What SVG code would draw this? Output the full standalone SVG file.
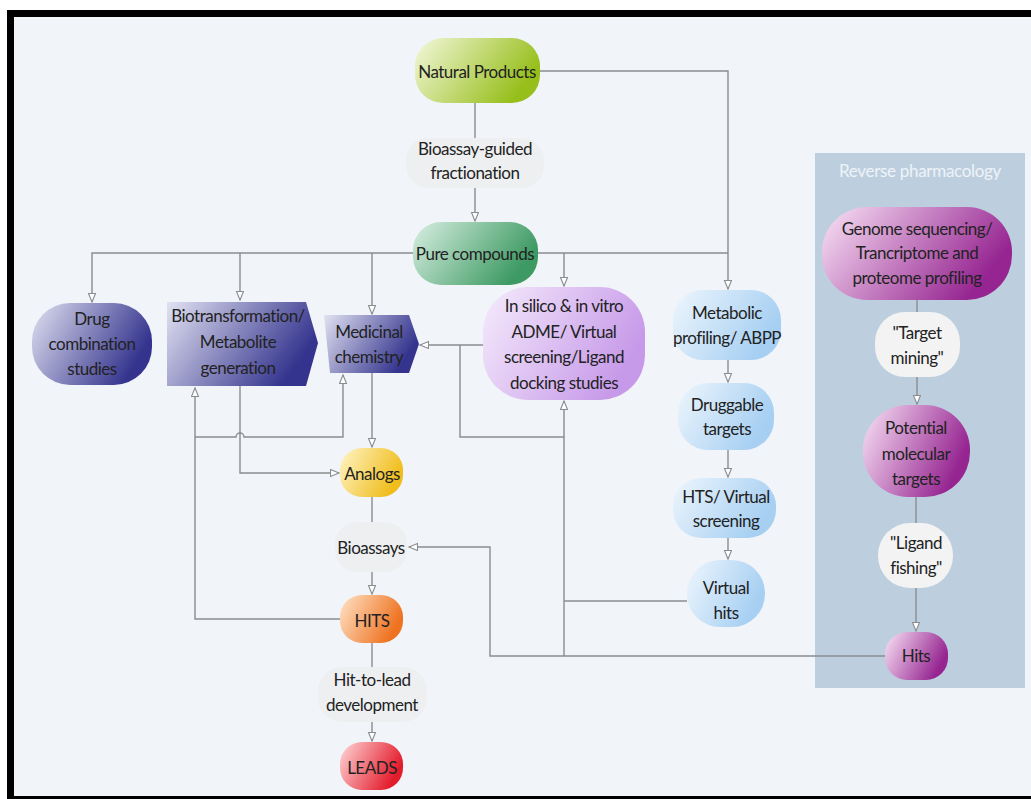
<svg xmlns="http://www.w3.org/2000/svg" width="1031" height="799" viewBox="0 0 1031 799">
<defs>
<style>
.t{font-family:Lato,"Open Sans","Liberation Sans",sans-serif;font-size:17px;letter-spacing:-0.5px;fill:#222;text-anchor:middle;dominant-baseline:central}
.c{fill:none;stroke:#8a8c90;stroke-width:1.4}
.a{marker-end:url(#ah)}
</style>
<marker id="ah" markerUnits="userSpaceOnUse" markerWidth="12" markerHeight="12" refX="9" refY="4" orient="auto">
<path d="M0.5,0.5 L9,4 L0.5,7.5 Z" fill="#ffffff" stroke="#8a8c90" stroke-width="1.1"/>
</marker>
<linearGradient id="gGreenL" x1="0" y1="0" x2="1" y2="0.4"><stop offset="0" stop-color="#f4f8dc"/><stop offset="1" stop-color="#97bf1c"/></linearGradient>
<linearGradient id="gGreenD" x1="0" y1="0" x2="1" y2="0.4"><stop offset="0" stop-color="#d9efe2"/><stop offset="1" stop-color="#3d9a63"/></linearGradient>
<linearGradient id="gBlueD" x1="0" y1="0" x2="1" y2="0.4"><stop offset="0" stop-color="#e2e2f2"/><stop offset="1" stop-color="#34348e"/></linearGradient>
<linearGradient id="gLilac" x1="0" y1="0" x2="1" y2="0.4"><stop offset="0" stop-color="#f6ecfc"/><stop offset="1" stop-color="#c79ae9"/></linearGradient>
<linearGradient id="gSky" x1="0" y1="0" x2="1" y2="0.4"><stop offset="0" stop-color="#eef6fd"/><stop offset="1" stop-color="#a6cff2"/></linearGradient>
<linearGradient id="gPurple" x1="0" y1="0" x2="1" y2="0.4"><stop offset="0" stop-color="#f9e4f6"/><stop offset="1" stop-color="#962591"/></linearGradient>
<linearGradient id="gYellow" x1="0" y1="0" x2="1" y2="0.4"><stop offset="0" stop-color="#fff5c8"/><stop offset="1" stop-color="#f0bd1c"/></linearGradient>
<linearGradient id="gOrange" x1="0" y1="0" x2="1" y2="0.4"><stop offset="0" stop-color="#ffe4c8"/><stop offset="1" stop-color="#ee7220"/></linearGradient>
<linearGradient id="gRed" x1="0" y1="0" x2="1" y2="0.4"><stop offset="0" stop-color="#ffd8d8"/><stop offset="1" stop-color="#e31c2c"/></linearGradient>
</defs>
<rect x="0" y="0" width="1031" height="799" fill="#ffffff"/>
<rect x="14" y="17" width="1017" height="779" fill="#f1f4f9"/>
<rect x="7" y="10" width="1024" height="7" fill="#000"/>
<rect x="7" y="10" width="7" height="789" fill="#000"/>
<rect x="7" y="796" width="1024" height="3" fill="#000"/>

<g id="panel-reverse">
<rect x="815" y="153" width="210" height="535" fill="#bdcfdf"/>
<text class="t" x="920" y="170" style="fill:#eef3f8;font-size:17px;letter-spacing:-0.3px">Reverse pharmacology</text>
</g>

<g id="connectors">
<path class="c" d="M475,103 V138"/>
<path class="c a" d="M475,188 V221"/>
<path class="c a" d="M540,71 H728 V289"/>
<path class="c" d="M537,253 H728"/>
<path class="c a" d="M413,253 H92 V302"/>
<path class="c a" d="M240,253 V300"/>
<path class="c a" d="M372,253 V314"/>
<path class="c a" d="M564,253 V286"/>
<path class="c a" d="M483,345 H420"/>
<path class="c a" d="M460,345 V437 H564 V401"/>
<path class="c" d="M564,437 V656"/>
<path class="c" d="M687,601 H564"/>
<path class="c a" d="M885,656 H490 V547 H409"/>
<path class="c a" d="M728,360 V382"/>
<path class="c a" d="M728,450 V477"/>
<path class="c a" d="M728,538 V559"/>
<path class="c a" d="M372,373 V447"/>
<path class="c a" d="M240,386 V473 H339"/>
<path class="c a" d="M340,619 H195 V388"/>
<path class="c a" d="M195,437 H236 A4,4 0 0 1 244,437 H343 V375"/>
<path class="c" d="M372,497 V522"/>
<path class="c a" d="M372,572 V594"/>
<path class="c" d="M372,643 V667"/>
<path class="c a" d="M372,722 V741"/>
<path class="c" d="M917,300 V312"/>
<path class="c a" d="M917,377 V404"/>
<path class="c" d="M916,497 V523"/>
<path class="c a" d="M916,588 V631"/>
</g>

<g id="n-natural-products">
<rect x="415" y="38" width="125" height="65" rx="28" fill="url(#gGreenL)"/>
<text class="t" x="477" y="71">Natural Products</text>
</g>
<g id="n-bioassay-guided">
<rect x="406" y="138" width="138" height="50" rx="22" fill="#eeeff1"/>
<text class="t" x="475" y="148">Bioassay-guided</text>
<text class="t" x="475" y="172">fractionation</text>
</g>
<g id="n-pure-compounds">
<rect x="413" y="222" width="125" height="63" rx="28" fill="url(#gGreenD)"/>
<text class="t" x="475" y="253">Pure compounds</text>
</g>
<g id="n-drug-combination">
<rect x="32" y="303" width="120" height="82" rx="38" fill="url(#gBlueD)"/>
<text class="t" x="92" y="318">Drug</text>
<text class="t" x="92" y="343">combination</text>
<text class="t" x="92" y="368">studies</text>
</g>
<g id="n-biotransformation">
<polygon points="167,302 306,302 318,343 306,386 167,386" fill="url(#gBlueD)"/>
<text class="t" x="238" y="315">Biotransformation/</text>
<text class="t" x="238" y="341">Metabolite</text>
<text class="t" x="238" y="367">generation</text>
</g>
<g id="n-medicinal-chemistry">
<polygon points="324,315 409,315 419,344 409,373 330,373 327,344" fill="url(#gBlueD)"/>
<text class="t" x="369" y="331">Medicinal</text>
<text class="t" x="369" y="356">chemistry</text>
</g>
<g id="n-in-silico">
<rect x="483" y="287" width="162" height="113" rx="45" fill="url(#gLilac)"/>
<text class="t" x="564" y="305">In silico &amp; in vitro</text>
<text class="t" x="564" y="331">ADME/ Virtual</text>
<text class="t" x="564" y="356">screening/Ligand</text>
<text class="t" x="564" y="382">docking studies</text>
</g>
<g id="n-metabolic-profiling">
<rect x="673" y="290" width="108" height="70" rx="30" fill="url(#gSky)"/>
<text class="t" x="727" y="312">Metabolic</text>
<text class="t" x="727" y="337">profiling/ ABPP</text>
</g>
<g id="n-druggable-targets">
<rect x="678" y="383" width="96" height="67" rx="30" fill="url(#gSky)"/>
<text class="t" x="727" y="404">Druggable</text>
<text class="t" x="727" y="428">targets</text>
</g>
<g id="n-hts">
<rect x="673" y="478" width="103" height="60" rx="28" fill="url(#gSky)"/>
<text class="t" x="726" y="496">HTS/ Virtual</text>
<text class="t" x="726" y="520">screening</text>
</g>
<g id="n-virtual-hits">
<rect x="687" y="560" width="78" height="67" rx="33" fill="url(#gSky)"/>
<text class="t" x="726" y="587">Virtual</text>
<text class="t" x="726" y="612">hits</text>
</g>
<g id="n-genome">
<rect x="822" y="207" width="190" height="93" rx="45" fill="url(#gPurple)"/>
<text class="t" x="917" y="228">Genome sequencing/</text>
<text class="t" x="917" y="252">Trancriptome and</text>
<text class="t" x="917" y="277">proteome profiling</text>
</g>
<g id="n-target-mining">
<rect x="875" y="312" width="85" height="65" rx="30" fill="#f3f3f4"/>
<text class="t" x="917" y="332">"Target</text>
<text class="t" x="917" y="357">mining"</text>
</g>
<g id="n-potential-targets">
<rect x="863" y="405" width="107" height="92" rx="45" fill="url(#gPurple)"/>
<text class="t" x="916" y="427">Potential</text>
<text class="t" x="916" y="453">molecular</text>
<text class="t" x="916" y="478">targets</text>
</g>
<g id="n-ligand-fishing">
<rect x="878" y="523" width="75" height="65" rx="32" fill="#f3f3f4"/>
<text class="t" x="916" y="542">"Ligand</text>
<text class="t" x="916" y="567">fishing"</text>
</g>
<g id="n-hits">
<rect x="885" y="632" width="63" height="48" rx="22" fill="url(#gPurple)"/>
<text class="t" x="916" y="655">Hits</text>
</g>
<g id="n-analogs">
<rect x="340" y="448" width="63" height="49" rx="22" fill="url(#gYellow)"/>
<text class="t" x="372" y="473">Analogs</text>
</g>
<g id="n-bioassays">
<rect x="335" y="522" width="72" height="50" rx="22" fill="#eeeff1"/>
<text class="t" x="371" y="547">Bioassays</text>
</g>
<g id="n-hits-main">
<rect x="340" y="595" width="63" height="48" rx="22" fill="url(#gOrange)"/>
<text class="t" x="372" y="620">HITS</text>
</g>
<g id="n-hit-to-lead">
<rect x="318" y="667" width="109" height="55" rx="24" fill="#eeeff1"/>
<text class="t" x="372" y="679">Hit-to-lead</text>
<text class="t" x="372" y="704">development</text>
</g>
<g id="n-leads">
<rect x="340" y="742" width="63" height="48" rx="22" fill="url(#gRed)"/>
<text class="t" x="372" y="767">LEADS</text>
</g>
</svg>
